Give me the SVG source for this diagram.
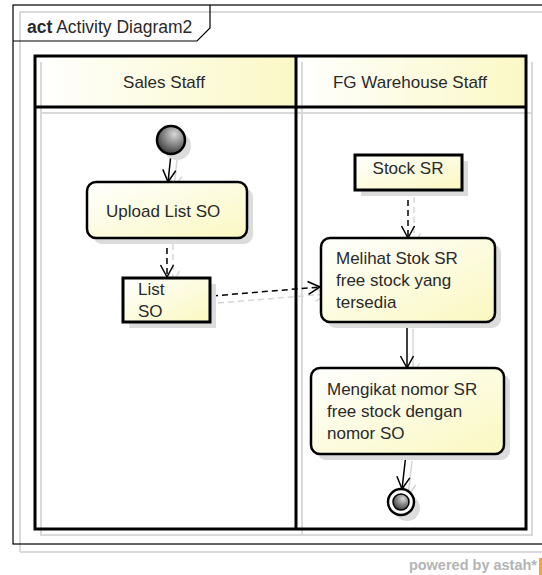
<svg xmlns="http://www.w3.org/2000/svg" width="542" height="575" viewBox="0 0 542 575">
<defs>
<linearGradient id="hdr" x1="0" y1="0" x2="1" y2="0">
<stop offset="0" stop-color="#ffffff"/>
<stop offset="1" stop-color="#faf8c4"/>
</linearGradient>
<linearGradient id="box" x1="0" y1="0" x2="1" y2="1">
<stop offset="0" stop-color="#ffffff"/>
<stop offset="1" stop-color="#faf8c0"/>
</linearGradient>
<radialGradient id="ball" cx="0.62" cy="0.3" r="0.8">
<stop offset="0" stop-color="#d8d8d8"/>
<stop offset="1" stop-color="#2a2a2a"/>
</radialGradient>
<marker id="arr" viewBox="0 0 16 16" refX="14" refY="8" markerWidth="16" markerHeight="16" markerUnits="userSpaceOnUse" orient="auto">
<path d="M2,1.5 L14,8 L2,14.5" fill="none" stroke="#000" stroke-width="1.5" stroke-dasharray="none"/>
</marker>
<marker id="arrS" viewBox="0 0 16 16" refX="14" refY="8" markerWidth="16" markerHeight="16" markerUnits="userSpaceOnUse" orient="auto">
<path d="M2,1.5 L14,8 L2,14.5" fill="none" stroke="#d6d6d6" stroke-width="1.5" stroke-dasharray="none"/>
</marker>
</defs>
<style>
text{font-family:"Liberation Sans",Arial,sans-serif;font-size:17px;fill:#2a2a2a}
.shadow{fill:#dcdcdc}
.sline{fill:none;stroke:#d9d9d9;stroke-width:2}
.lane{fill:none;stroke:#000;stroke-width:3}
.act{fill:url(#box);stroke:#000;stroke-width:2.5}
.obj{fill:url(#box);stroke:#000;stroke-width:3}
.c{fill:none;stroke:#000;stroke-width:1.5;marker-end:url(#arr)}
.cs{fill:none;stroke:#d6d6d6;stroke-width:1.5;marker-end:url(#arrS)}
.d{stroke-dasharray:6 4}
</style>
<rect width="542" height="575" fill="#fff"/>

<g id="frame">
<path class="sline" d="M20,552 L20,12 L542,12 M20,552 L542,552" stroke-width="1.5"/>
<rect x="13" y="5" width="540" height="539" fill="none" stroke="#000" stroke-width="1.2"/>
<path d="M13,41 L197,41 L210,28 L210,5" fill="none" stroke="#000" stroke-width="1.2"/>
<text x="27" y="33" style="font-size:17.5px"><tspan font-weight="bold">act</tspan> Activity Diagram2</text>
</g>

<g id="lanes">
<rect x="35" y="56" width="261" height="51" fill="url(#hdr)"/>
<rect x="296" y="56" width="230" height="51" fill="url(#hdr)"/>
<path class="sline" d="M41,62 L41,535 L532,535 L532,62 M41,113 L532,113 M302,62 L302,535"/>
<rect class="lane" x="35" y="56" width="491" height="473"/>
<line class="lane" x1="296" y1="56" x2="296" y2="529"/>
<line class="lane" x1="35" y1="107" x2="526" y2="107"/>
<text x="164" y="88" text-anchor="middle">Sales Staff</text>
<text x="410" y="88" text-anchor="middle">FG Warehouse Staff</text>
</g>

<g id="connectors">
<line class="cs" x1="177" y1="160" x2="174" y2="188"/>
<line class="cs d" x1="173" y1="244" x2="173" y2="283"/>
<line class="cs d" x1="218" y1="303" x2="327" y2="294"/>
<line class="cs d" x1="414" y1="197" x2="414" y2="245"/>
<line class="cs" x1="413" y1="329" x2="413" y2="375"/>
<line class="cs" x1="412" y1="461" x2="408" y2="496"/>
<line class="c" x1="171" y1="154" x2="168" y2="182"/>
<line class="c d" x1="167" y1="238" x2="167" y2="277"/>
<line class="c d" x1="212" y1="296" x2="320" y2="287"/>
<line class="c d" x1="408" y1="190" x2="408" y2="238"/>
<line class="c" x1="407" y1="322" x2="407" y2="368"/>
<line class="c" x1="406" y1="454" x2="402" y2="489"/>
</g>

<g id="initial">
<circle class="shadow" cx="177" cy="146" r="14"/>
<circle cx="171" cy="140" r="14" fill="url(#ball)" stroke="#000" stroke-width="2.5"/>
</g>

<g id="upload">
<rect class="shadow" x="93" y="188" width="160" height="56" rx="9"/>
<rect class="act" x="87" y="182" width="160" height="56" rx="9"/>
<text x="106" y="217">Upload List SO</text>
</g>

<g id="listso">
<rect class="shadow" x="129" y="284" width="87" height="44"/>
<rect class="obj" x="123" y="278" width="87" height="44"/>
<text x="138" y="295">List</text>
<text x="138" y="317">SO</text>
</g>

<g id="stocksr">
<rect class="shadow" x="361" y="161" width="107" height="35"/>
<rect class="obj" x="355" y="155" width="107" height="35"/>
<text x="408" y="174" text-anchor="middle">Stock SR</text>
</g>

<g id="melihat">
<rect class="shadow" x="327" y="244" width="174" height="84" rx="9"/>
<rect class="act" x="321" y="238" width="174" height="84" rx="9"/>
<text x="336" y="264">Melihat Stok SR</text>
<text x="336" y="286">free stock yang</text>
<text x="336" y="308">tersedia</text>
</g>

<g id="mengikat">
<rect class="shadow" x="317" y="374" width="193" height="86" rx="9"/>
<rect class="act" x="311" y="368" width="193" height="86" rx="9"/>
<text x="327" y="395">Mengikat nomor SR</text>
<text x="327" y="417">free stock dengan</text>
<text x="327" y="439">nomor SO</text>
</g>

<g id="final">
<circle class="shadow" cx="407" cy="508" r="13"/>
<circle cx="401" cy="502" r="13" fill="#fff" stroke="#000" stroke-width="2.5"/>
<circle cx="401" cy="502" r="8" fill="url(#ball)" stroke="#000" stroke-width="1.5"/>
</g>

<g id="credit">
<text x="537" y="570" text-anchor="end" font-weight="bold" style="fill:#b4b4b4;font-size:14.5px">powered by astah*</text>
<rect x="539" y="558" width="3" height="17" fill="#f2a640"/>
</g>
</svg>
